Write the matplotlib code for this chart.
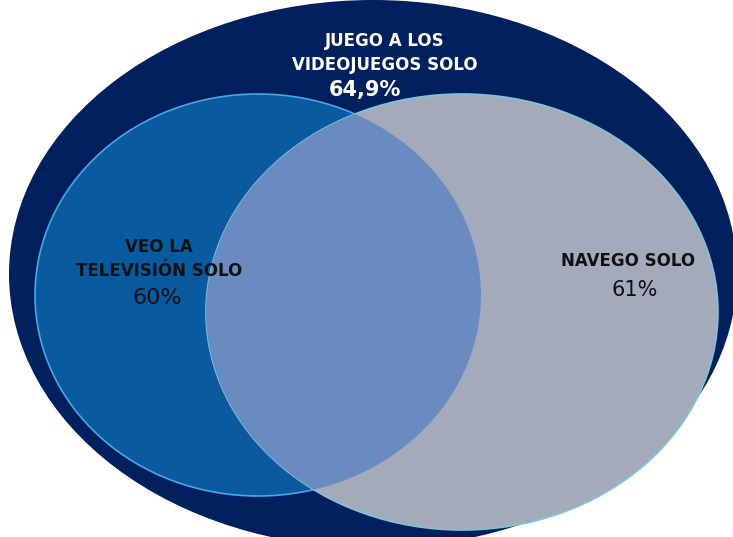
import matplotlib.pyplot as plt
from matplotlib.patches import Ellipse

labels = ['JUEGO A LOS\nVIDEOJUEGOS SOLO', 'VEO LA\nTELEVISIÓN SOLO', 'NAVEGO SOLO']
values = [64.9, 60, 61]

# ellipse layout in pixel units: (cx, cy, width, height)
shapes = [(373, 274, 728, 548), (258, 295, 446, 402), (462, 312, 512, 436)]
fills = ['#03205e', '#0a5aa0', '#a3abbb']
overlap_color = '#6a8bc0'
edge = '#4aa6e6'


def fmt(v):
    s = f'{v:g}%'
    return s.replace('.', ',')


fig = plt.figure(figsize=(7.33, 5.37), dpi=100)
ax = fig.add_axes([0, 0, 1, 1])
ax.set_xlim(0, 733)
ax.set_ylim(537, 0)
ax.axis('off')

(ocx, ocy, ow, oh) = shapes[0]
ax.add_patch(Ellipse((ocx, ocy), ow, oh, facecolor=fills[0], edgecolor='none'))

(lcx, lcy, lw, lh) = shapes[1]
(rcx, rcy, rw, rh) = shapes[2]
left = Ellipse((lcx, lcy), lw, lh, facecolor=fills[1], edgecolor=edge, lw=1.2)
right = Ellipse((rcx, rcy), rw, rh, facecolor=fills[2], edgecolor='#7fc4d8', lw=1.2)
ax.add_patch(left)
ax.add_patch(right)
clip = Ellipse((lcx, lcy), lw, lh, transform=ax.transData)
both = Ellipse((rcx, rcy), rw, rh, facecolor=overlap_color, edgecolor='none')
ax.add_patch(both)
both.set_clip_path(clip)

# labels
ax.text(385, 53, labels[0], color='white', fontsize=12, fontweight='bold',
        ha='center', va='center', linespacing=1.4)
ax.text(365, 90, fmt(values[0]), color='white', fontsize=15, fontweight='bold',
        ha='center', va='center')

ax.text(159, 259, labels[1], color='#111111', fontsize=12, fontweight='bold',
        ha='center', va='center', linespacing=1.45)
ax.text(157, 298, fmt(values[1]), color='#111111', fontsize=16,
        ha='center', va='center')

ax.text(628, 261, labels[2], color='#111111', fontsize=12, fontweight='bold',
        ha='center', va='center')
ax.text(635, 290, fmt(values[2]), color='#111111', fontsize=15,
        ha='center', va='center')

fig.savefig('out.png', dpi=100)
